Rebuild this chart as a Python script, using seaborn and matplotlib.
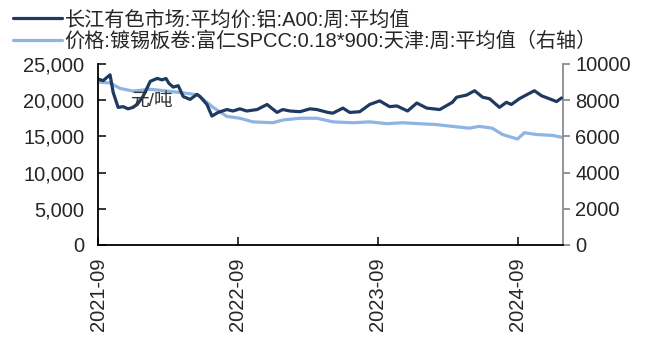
import pandas as pd
import numpy as np
import matplotlib
matplotlib.use("Agg")
import matplotlib.pyplot as plt
import matplotlib.dates as mdates
import seaborn as sns

# Aluminium A00, Changjiang market (left axis, yuan/ton)
al_dates = ["2021-09-01", "2021-09-14", "2021-10-02", "2021-10-10", "2021-10-23", "2021-11-05",
            "2021-11-18", "2021-12-01", "2021-12-12", "2021-12-27", "2022-01-15", "2022-02-02",
            "2022-02-15", "2022-02-25", "2022-03-05", "2022-03-16", "2022-03-29", "2022-04-11",
            "2022-04-29", "2022-05-17", "2022-05-25", "2022-06-12", "2022-06-25", "2022-07-11",
            "2022-08-03", "2022-08-19", "2022-09-06", "2022-09-24", "2022-10-21", "2022-11-16",
            "2022-12-12", "2022-12-27", "2023-01-15", "2023-02-10", "2023-03-08", "2023-03-26",
            "2023-04-24", "2023-05-07", "2023-06-02", "2023-06-20", "2023-07-16", "2023-08-11",
            "2023-09-06", "2023-10-02", "2023-10-21", "2023-11-18", "2023-12-12", "2024-01-07",
            "2024-02-10", "2024-03-14", "2024-03-25", "2024-04-20", "2024-05-11", "2024-06-01",
            "2024-06-19", "2024-07-15", "2024-08-02", "2024-08-15", "2024-09-05", "2024-09-26",
            "2024-10-14", "2024-11-02", "2024-11-22", "2024-12-11", "2024-12-24"]
al_price = [22900, 22700, 23500, 21100, 19000, 19100,
            18800, 19000, 19400, 20500, 22600, 23000,
            22800, 23000, 22300, 21800, 22000, 20500,
            20100, 20800, 20500, 19400, 17800, 18300,
            18700, 18500, 18800, 18500, 18700, 19400,
            18300, 18700, 18500, 18400, 18800, 18700,
            18300, 18200, 18900, 18300, 18400, 19400,
            19900, 19100, 19200, 18500, 19600, 18900,
            18700, 19700, 20400, 20700, 21300, 20400,
            20200, 19000, 19700, 19400, 20200, 20800,
            21300, 20600, 20200, 19800, 20300]

# Tinplate coil SPCC 0.18*900, Tianjin (right axis)
tin_dates = ["2021-09-01", "2021-10-02", "2021-10-28", "2021-12-01", "2022-01-15", "2022-02-28",
             "2022-04-11", "2022-05-17", "2022-06-02", "2022-06-28", "2022-08-03", "2022-09-06",
             "2022-10-10", "2022-12-01", "2022-12-27", "2023-02-10", "2023-03-26", "2023-05-07",
             "2023-06-28", "2023-08-11", "2023-09-24", "2023-11-05", "2023-12-17", "2024-01-31",
             "2024-03-14", "2024-04-27", "2024-05-23", "2024-06-26", "2024-07-23", "2024-08-31",
             "2024-09-18", "2024-10-19", "2024-11-30", "2024-12-24"]
tin_price = [9000, 8950, 8650, 8500, 8600, 8500,
             8400, 8300, 8050, 7600, 7100, 7000,
             6800, 6750, 6900, 7000, 7000, 6800,
             6750, 6800, 6700, 6750, 6700, 6650,
             6550, 6450, 6550, 6450, 6100, 5850,
             6200, 6100, 6050, 5950]

label_al = "长江有色市场:平均价:铝:A00:周:平均值"
label_tin = "价格:镀锡板卷:富仁SPCC:0.18*900:天津:周:平均值（右轴）"

df_al = pd.DataFrame({"date": pd.to_datetime(al_dates), "price": al_price})
df_tin = pd.DataFrame({"date": pd.to_datetime(tin_dates), "price": tin_price})

sns.set_style("white")
plt.rcParams["font.family"] = ["Liberation Sans", "Noto Sans CJK SC"]

dark = "#1F3A60"
light = "#8DB4E2"

fig = plt.figure(figsize=(6.46, 3.42), dpi=100)
ax = fig.add_axes([0.152, 0.284, 0.719, 0.529])
ax2 = ax.twinx()

sns.lineplot(data=df_al, x="date", y="price", ax=ax, color=dark, linewidth=2.3, label=label_al, legend=False)
sns.lineplot(data=df_tin, x="date", y="price", ax=ax2, color=light, linewidth=2.3, label=label_tin, legend=False)
ax.set_zorder(ax2.get_zorder() + 1)
ax.patch.set_visible(False)

ax.set_xlim(pd.Timestamp("2021-09-01"), pd.Timestamp("2024-12-27"))
ax.set_ylim(0, 25000)
ax2.set_ylim(0, 10000)
ax.set_yticks(np.arange(0, 25001, 5000))
ax.set_yticklabels([f"{v:,}" for v in range(0, 25001, 5000)])
ax2.set_yticks(np.arange(0, 10001, 2000))

ax.xaxis.set_major_locator(mdates.MonthLocator(bymonth=9))
ax.xaxis.set_major_formatter(mdates.DateFormatter("%Y-%m"))
ax.set_xlabel("")
ax.set_ylabel("")
ax2.set_ylabel("")

for s in ["top", "right"]:
    ax.spines[s].set_visible(False)
ax.spines["left"].set_color("black")
ax.spines["bottom"].set_color("black")
ax2.spines["top"].set_visible(False)
ax2.spines["left"].set_visible(False)
ax2.spines["bottom"].set_visible(False)
ax2.spines["right"].set_color("#8C8C8C")
ax2.spines["right"].set_linewidth(1.3)
ax.spines["left"].set_linewidth(1.3)
ax.spines["bottom"].set_linewidth(1.3)

ax.tick_params(axis="y", direction="in", length=6, width=1.3, labelsize=14.5, pad=10, left=True)
ax.tick_params(axis="x", direction="in", length=6, width=1.3, labelsize=14.5, pad=9, bottom=True, labelrotation=90)
ax2.tick_params(axis="y", direction="out", length=5, width=1.3, color="#8C8C8C", labelsize=14.5, pad=4, right=True)

fig.text(0.235, 0.705, "元/吨", fontsize=13.5, ha="center", va="center", color="#333333")

h1, l1 = ax.get_legend_handles_labels()
h2, l2 = ax2.get_legend_handles_labels()
fig.legend(h1 + h2, l1 + l2, loc="upper left", bbox_to_anchor=(0.005, 1.0), frameon=False,
           fontsize=14.5, handlelength=2.4, handletextpad=0.15, labelspacing=0.1, borderaxespad=0.1)

fig.savefig("out.png", dpi=100)
